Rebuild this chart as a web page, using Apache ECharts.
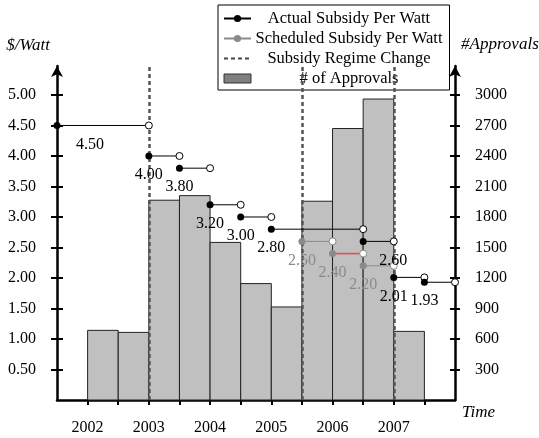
<!DOCTYPE html>
<html>
<head>
<meta charset="utf-8">
<script src="https://cdn.jsdelivr.net/npm/echarts@6/dist/echarts.min.js"></script>
<style>
  html, body { margin: 0; padding: 0; background: #fff; }
  #chart { width: 539px; height: 438px; }
</style>
</head>
<body>
<div id="chart"></div>
<script>
  // approvals per half-year bin
  const binStart = [2002, 2002.5, 2003, 2003.5, 2004, 2004.5, 2005, 2005.5, 2006, 2006.5, 2007];
  const binEnd = [2002.5, 2003, 2003.5, 2004, 2004.5, 2005, 2005.5, 2006, 2006.5, 2007, 2007.5];
  const approvals = [685, 665, 1965, 2010, 1550, 1145, 915, 1955, 2670, 2960, 675];

  // actual subsidy steps ($/W)
  const actualStart = [2001.5, 2003, 2003.5, 2004, 2004.5, 2005, 2006.5, 2007, 2007.5];
  const actualEnd = [2003, 2003.5, 2004, 2004.5, 2005, 2006.5, 2007, 2007.5, 2008];
  const actualValue = [4.50, 4.00, 3.80, 3.20, 3.00, 2.80, 2.60, 2.01, 1.93];
  const actualLabel = ['4.50', '4.00', '3.80', '3.20', '3.00', '2.80', '2.60', '2.01', '1.93'];

  // scheduled subsidy steps ($/W)
  const schedStart = [2005.5, 2006, 2006.5];
  const schedEnd = [2006, 2006.5, 2007];
  const schedValue = [2.60, 2.40, 2.20];
  const schedLabel = ['2.50', '2.40', '2.20'];

  const regimeChanges = [2003, 2005.5, 2007];

  const yearLabels = [2002, 2003, 2004, 2005, 2006, 2007];
  const halfYearTicks = [2002, 2002.5, 2003, 2003.5, 2004, 2004.5, 2005, 2005.5, 2006, 2006.5, 2007, 2007.5];
  const leftTicks = [0.5, 1.0, 1.5, 2.0, 2.5, 3.0, 3.5, 4.0, 4.5, 5.0];
  const rightTicks = [300, 600, 900, 1200, 1500, 1800, 2100, 2400, 2700, 3000];

  const SERIF = '"Liberation Serif", "Times New Roman", serif';
  const GRAY = '#8a8a8a';
  // labels that sit away from their dot (index -> x shift in px)
  const actualShift = {0: 33, 6: 30};

  const chart = echarts.init(document.getElementById('chart'));

  // one series per step: filled dot at the start, open circle at the end
  function stepSeries(name, x0, x1, v, text, color, lineColor, lineWidth, dx) {
    return {
      name: name,
      type: 'line',
      yAxisIndex: 0,
      clip: false,
      z: 5,
      symbol: 'circle',
      symbolSize: 7,
      itemStyle: {color: color},
      lineStyle: {color: lineColor, width: lineWidth},
      emphasis: {disabled: true},
      data: [
        {
          value: [x0, v],
          label: {
            show: true, formatter: text, position: 'inside', offset: [dx, 19],
            color: color, fontFamily: SERIF, fontSize: 16
          }
        },
        {value: [x1, v], itemStyle: {color: '#fff', borderColor: color, borderWidth: 1}}
      ]
    };
  }

  const series = [];

  series.push({
    name: '# of Approvals',
    type: 'custom',
    xAxisIndex: 0,
    yAxisIndex: 1,
    z: 1,
    itemStyle: {color: '#c0c0c0'},
    encode: {x: [0, 1], y: 2},
    data: approvals.map((a, i) => [binStart[i], binEnd[i], a]),
    renderItem: function (params, api) {
      const p0 = api.coord([api.value(0), api.value(2)]);
      const p1 = api.coord([api.value(1), 0]);
      return {
        type: 'rect',
        shape: {x: p0[0], y: p0[1], width: p1[0] - p0[0], height: p1[1] - p0[1]},
        style: {fill: '#c0c0c0', stroke: '#222', lineWidth: 1}
      };
    }
  });

  series.push({
    name: 'Subsidy Regime Change',
    type: 'line',
    yAxisIndex: 0,
    symbol: 'none',
    z: 3,
    itemStyle: {color: 'rgba(0,0,0,0)', borderWidth: 0},
    lineStyle: {type: [4, 3], color: '#444', width: 2},
    data: [],
    markLine: {
      silent: true,
      symbol: 'none',
      label: {show: false},
      lineStyle: {type: [4, 3], color: '#555', width: 2.5},
      data: regimeChanges.map(x => ({xAxis: x}))
    }
  });

  actualValue.forEach((v, i) => {
    series.push(stepSeries('Actual Subsidy Per Watt', actualStart[i], actualEnd[i], v,
      actualLabel[i], '#000', '#000', 1, actualShift[i] || 0));
  });

  schedValue.forEach((v, i) => {
    // the 2006 step is drawn in red in the original
    const red = i === 1;
    series.push(stepSeries('Scheduled Subsidy Per Watt', schedStart[i], schedEnd[i], v,
      schedLabel[i], GRAY, red ? '#e05050' : GRAY, red ? 1.6 : 1, 0));
  });

  const axisText = {color: '#000', fontFamily: SERIF, fontSize: 16};

  chart.setOption({
    animation: false,
    grid: {left: 57, right: 84, top: 66, bottom: 38, outerBoundsMode: 'none'},
    legend: {
      orient: 'vertical',
      left: 218,
      top: 5,
      padding: [5, 7, 3, 5],
      itemGap: 3,
      itemWidth: 27,
      itemHeight: 9,
      backgroundColor: '#fff',
      borderColor: '#000',
      borderWidth: 1,
      lineStyle: {width: 2},
      selectedMode: false,
      data: [
        {name: 'Actual Subsidy Per Watt'},
        {name: 'Scheduled Subsidy Per Watt'},
        {name: 'Subsidy Regime Change'},
        {name: '# of Approvals', icon: 'rect', itemStyle: {color: '#808080', borderColor: '#333', borderWidth: 1}}
      ],
      formatter: name => '{c|' + name + '}',
      textStyle: {
        rich: {c: {width: 186, align: 'center', fontFamily: SERIF, fontSize: 16.5, lineHeight: 14, color: '#000'}}
      }
    },
    xAxis: {
      type: 'value',
      min: 2001.5,
      max: 2008,
      splitLine: {show: false},
      axisLine: {lineStyle: {color: '#000', width: 2.5}},
      axisTick: {show: true, length: 5, lineStyle: {color: '#000', width: 2}, customValues: halfYearTicks},
      axisLabel: Object.assign({margin: 20, customValues: yearLabels, formatter: v => String(v)}, axisText)
    },
    yAxis: [
      {
        type: 'value', position: 'left', min: 0, max: 5.475,
        splitLine: {show: false},
        axisLine: {show: true, symbol: ['none', 'arrow'], symbolSize: [9, 11], lineStyle: {color: '#000', width: 2.5}},
        axisTick: {show: true, length: 6, lineStyle: {color: '#000', width: 2}, customValues: leftTicks},
        axisLabel: Object.assign({margin: 21, customValues: leftTicks, formatter: v => v.toFixed(2)}, axisText)
      },
      {
        type: 'value', position: 'right', min: 0, max: 3285,
        splitLine: {show: false},
        axisLine: {show: true, symbol: ['none', 'arrow'], symbolSize: [9, 11], lineStyle: {color: '#000', width: 2.5}},
        axisTick: {show: true, length: 5, lineStyle: {color: '#000', width: 2}, customValues: rightTicks},
        axisLabel: Object.assign({margin: 20, customValues: rightTicks, formatter: v => String(v)}, axisText)
      },
      // inner halves of the crossing ticks
      {
        type: 'value', position: 'left', min: 0, max: 5.475,
        splitLine: {show: false}, axisLine: {show: false}, axisLabel: {show: false},
        axisTick: {show: true, inside: true, length: 6, lineStyle: {color: '#000', width: 2}, customValues: leftTicks}
      },
      {
        type: 'value', position: 'right', min: 0, max: 3285,
        splitLine: {show: false}, axisLine: {show: false}, axisLabel: {show: false},
        axisTick: {show: true, inside: true, length: 5, lineStyle: {color: '#000', width: 2}, customValues: rightTicks}
      }
    ],
    graphic: [
      {type: 'text', x: 50, y: 46, style: {text: '$/Watt', align: 'right', verticalAlign: 'middle', font: 'italic 17px ' + SERIF, fill: '#000'}},
      {type: 'text', x: 461, y: 45, style: {text: '#Approvals', align: 'left', verticalAlign: 'middle', font: 'italic 17px ' + SERIF, fill: '#000'}},
      {type: 'text', x: 462, y: 413, style: {text: 'Time', align: 'left', verticalAlign: 'middle', font: 'italic 17px ' + SERIF, fill: '#000'}}
    ],
    series: series
  });
</script>
</body>
</html>
